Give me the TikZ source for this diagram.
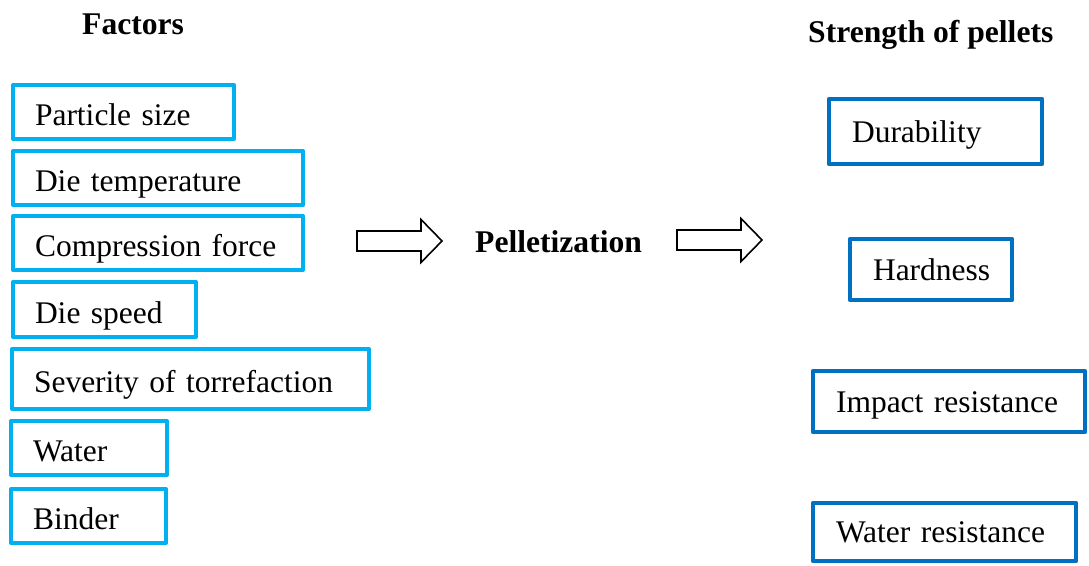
\documentclass[tikz,border=0pt]{standalone}
\usepackage{fontspec}
\setmainfont{Liberation Serif}
\usepackage{tikz}
\definecolor{factorblue}{RGB}{0, 176, 240}
\definecolor{strengthblue}{RGB}{0, 112, 192}
\usetikzlibrary{positioning}

\tikzset{
  factor/.style={draw=factorblue, line width=4pt, line join=round, anchor=north west, outer sep=0pt,
    inner xsep=22pt, inner ysep=0pt, align=left, text height=27pt, text depth=0pt},
  strength/.style={draw=strengthblue, line width=4.3pt, line join=round, anchor=north west, outer sep=0pt,
    inner xsep=23pt, inner ysep=0pt, align=left, text height=21pt, text depth=0pt},
  heading/.style={anchor=base west, inner sep=0pt, font=\fontsize{31.6}{36}\selectfont\bfseries},
  blockarr/.pic={
    \draw [line width=1.6pt, line join=miter, fill=white]
      (0pt,-10pt) -- (64pt,-10pt) -- (64pt,-21.5pt) -- (85pt,0pt)
      -- (64pt,21.5pt) -- (64pt,10pt) -- (0pt,10pt) -- cycle;
  }
}

\begin{document}
\begin{tikzpicture}[x=1pt, y=1pt, every node/.style={font=\fontsize{31.5}{36}\selectfont}]
\useasboundingbox (0,0) rectangle (1089,-565);

% column headings
\node (factors) [heading] at (82, -34) {Factors};
\node (strength) [heading] at (808, -42) {Strength of pellets};

% factors
\node (size) [factor, minimum width=221pt, minimum height=54pt, text width=177pt] at (13, -85) {Particle size};
\node (temp) [factor, minimum width=290pt, minimum height=54pt, text width=246pt] at (13, -151) {Die temperature};
\node (force) [factor, minimum width=290pt, minimum height=54pt, text width=246pt] at (13, -216) {Compression force};
\node (speed) [factor, minimum width=183pt, minimum height=55pt, text width=139pt] at (13, -282) {Die speed};
\node (torr) [factor, minimum width=357pt, minimum height=60pt, text width=313pt] at (12, -349) {Severity of torrefaction};
\node (water) [factor, minimum width=156pt, minimum height=54pt, text width=112pt] at (11, -421) {Water};
\node (binder) [factor, minimum width=155pt, minimum height=54pt, text width=111pt] at (11, -489) {Binder};

% process
\pic (arrin) at (357, -241) {blockarr};
\node (pellet) [heading] at (475, -252) {Pelletization};
\pic (arrout) at (677, -240) {blockarr};

% strength properties
\node (dura) [strength, minimum width=213pt, minimum height=65pt, text width=167pt] at (829, -99) {Durability};
\node (hard) [strength, minimum width=162pt, minimum height=61pt, text width=116pt] at (850, -239) {Hardness};
\node (impact) [strength, minimum width=272pt, minimum height=61pt, text width=226pt] at (813, -371) {Impact resistance};
\node (wres) [strength, minimum width=263pt, minimum height=58pt, text width=217pt] at (813, -503) {Water resistance};
\end{tikzpicture}
\end{document}
